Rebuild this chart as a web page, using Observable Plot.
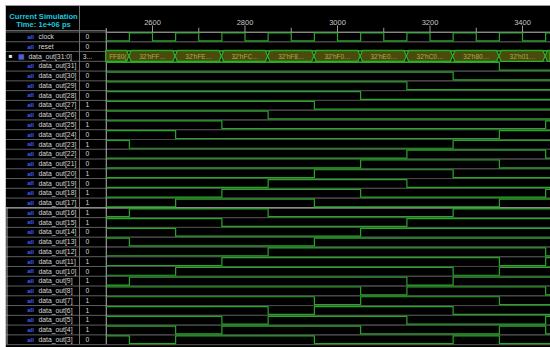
<!DOCTYPE html>
<html><head><meta charset="utf-8">
<script src="https://cdn.jsdelivr.net/npm/d3@7"></script>
<script src="https://cdn.jsdelivr.net/npm/@observablehq/plot@0.6"></script>
<style>
html,body{margin:0;padding:0;background:#fff;width:550px;height:347px;overflow:hidden;}
#wrap{position:absolute;left:5px;top:5px;width:544px;height:341px;background:#000;overflow:hidden;border-top:1px solid #9a9a9a;border-left:1px solid #c8c8c8;}
#wrap svg{display:block;}
</style></head><body><div id="wrap"></div>
<script>
// ---------- data ----------
const viewStart = 2500;
const viewEnd = 3460.5;
const majorTicks = [2600, 2800, 3000, 3200, 3400];
const minorTicks = [2700, 2900, 3100, 3300];
const headerLines = ["Current Simulation", "Time: 1e+06 ps"];

const clockTimes = [2500,2550,2600,2650,2700,2750,2800,2850,2900,2950,3000,3050,3100,3150,3200,3250,3300,3350,3400,3450];
const clockLevels = [0,1,0,1,0,1,0,1,0,1,0,1,0,1,0,1,0,1,0,1];
const resetTimes = [2500];
const resetLevels = [0];

const busName = "data_out[31:0]";
const busTimes = [2500,2550,2650,2750,2850,2950,3050,3150,3250,3350,3450];
const busLabels = ["FF80(", "32'hFF…", "32'hFE…", "32'hFC…", "32'hF8…", "32'hF0…", "32'hE0…", "32'hC0…", "32'h80…", "32'h01…", ""];

const bitNames = ["data_out[31]","data_out[30]","data_out[29]","data_out[28]","data_out[27]","data_out[26]","data_out[25]","data_out[24]","data_out[23]","data_out[22]","data_out[21]","data_out[20]","data_out[19]","data_out[18]","data_out[17]","data_out[16]","data_out[15]","data_out[14]","data_out[13]","data_out[12]","data_out[11]","data_out[10]","data_out[9]","data_out[8]","data_out[7]","data_out[6]","data_out[5]","data_out[4]","data_out[3]"];
// level of each bit during each bus interval (busTimes)
const bitWaves = ["11111111100","11111111000","11111110000","11111100000","11111000000","11110000000","11100000001","11000000011","10000000111","00000001110","00000011100","00000111000","00001110000","00011100001","00111000011","01110000111","11100001111","11000011111","10000111111","00001111110","00011111101","00111111011","01111110111","11111101110","11111011100","11110111000","11101110001","11011100010","10111000100"];

const topValues = ["0", "0"];
const busValue = "3...";
const bitValues = ["0","0","0","0","1","0","1","0","1","0","0","1","0","1","1","1","1","0","0","0","1","0","1","0","1","1","1","1","0"];
const groupBreakBefore = "data_out[16]";

// ---------- layout ----------
const W = 544, H = 341;
const rows = ["clock", "reset", busName, ...bitNames];
const idx = new Map(rows.map((r, i) => [r, i]));
const nRows = rows.length;
const HI = 0.1, LO = 0.9;
const green = "#25a825";
const font = "Liberation Sans, Arial, sans-serif";

function wavePoints(name, times, levels) {
  const pts = times.map((t, i) => ({name, t, v: levels[i]}));
  pts.push({name, t: viewEnd, v: levels[levels.length - 1]});
  return pts;
}
const wave = [
  ...wavePoints("clock", clockTimes, clockLevels),
  ...wavePoints("reset", resetTimes, resetLevels),
  ...bitNames.flatMap((n, k) => wavePoints(n, busTimes, [...bitWaves[k]].map(Number)))
];

const busRow = idx.get(busName);
const pinch = 5;
const busSegs = busTimes.map((t0, i) => ({seg: i, t0, t1: i + 1 < busTimes.length ? busTimes[i + 1] : viewEnd, label: busLabels[i]}));
const busPoly = busSegs.flatMap(({seg, t0, t1}) => {
  const a = t0 === viewStart ? 0 : pinch;
  const b = t1 === viewEnd ? 0 : pinch;
  const pts = [];
  if (a) pts.push({seg, t: t0, h: 0});
  pts.push({seg, t: t0 + a, h: 1});
  pts.push({seg, t: t1 - b, h: 1});
  if (b) pts.push({seg, t: t1, h: 0});
  return pts;
});
const BH = 0.56;

const boundaries = d3.range(nRows + 1);
const oneBitRows = ["clock", "reset", ...bitNames];
const oneBitValues = [...topValues, ...bitValues];

const chart = Plot.plot({
  width: W, height: H,
  marginTop: 0, marginLeft: 0, marginRight: 0, marginBottom: 0,
  style: {background: "#000", fontFamily: font, overflow: "hidden"},
  x: {domain: [viewStart, viewEnd], range: [99.75, W], axis: null},
  y: {type: "linear", domain: [0, nRows], range: [25.5, 25.5 + nRows * 9.77], axis: null},
  marks: [
    // name panel row lines
    Plot.ruleY(boundaries, {y: d => d, stroke: "#5e5e5e", strokeWidth: 1}),
    Plot.ruleY([0], {y: d => d - 0.15, x2: viewStart, stroke: "#6a6a6a"}),
    // waveform separators
    Plot.ruleY(boundaries, {y: d => d, x1: viewStart, x2: viewEnd, stroke: "#474747", strokeWidth: 1}),
    Plot.ruleY([idx.get(groupBreakBefore)], {y: d => d, stroke: "#b8b8b8", strokeWidth: 1}),
    // panel vertical lines
    Plot.ruleX([viewStart], {x: d => d, dx: -26.75, y1: -3, y2: nRows, stroke: "#707070"}),
    Plot.ruleX([viewStart], {x: d => d, dx: -99.25, y1: idx.get(groupBreakBefore), y2: nRows, stroke: "#b0b0b0"}),
    Plot.ruleX([viewStart], {x: d => d, y1: -0.35, y2: nRows, stroke: "#b8b8b8"}),
    // time axis
    Plot.ruleY([0], {y: d => d + 0.05, x1: viewStart, x2: viewEnd, stroke: "#8a8a8a"}),
    Plot.ruleX(majorTicks, {x: d => d, y1: -0.62, y2: 0.05, stroke: "#9a9a9a"}),
    Plot.ruleX(minorTicks, {x: d => d, y1: -0.38, y2: 0.05, stroke: "#9a9a9a"}),
    Plot.text(majorTicks, {x: d => d, y: -0.98, text: d => String(d), fill: "#c8c8c8", fontSize: 7.5, fontFamily: font}),
    // header (two lines, placed in the header cell above the first row)
    Plot.text(headerLines, {frameAnchor: "left", y: (d, i) => -1.55 + i * 0.82, dx: 37, text: d => d, fill: "#1ec6de", fontWeight: "bold", fontSize: 7.6, textAnchor: "middle", fontFamily: font}),
    // icons + names + values
    Plot.text(oneBitRows, {frameAnchor: "left", y: d => idx.get(d) + 0.5, dx: 24, text: () => "all", fill: "#3f5cff", fontWeight: "bold", fontSize: 6, textAnchor: "middle", fontFamily: font}),
    Plot.text(oneBitRows, {frameAnchor: "left", y: d => idx.get(d) + 0.5, dx: 32, text: d => d, fill: "#d6d6d6", fontSize: 6.8, textAnchor: "start", fontFamily: font}),
    Plot.text([busName], {frameAnchor: "left", y: d => idx.get(d) + 0.5, dx: 4, text: () => "■", fill: "#e8e8e8", fontSize: 6, textAnchor: "middle"}),
    Plot.text([busName], {frameAnchor: "left", y: d => idx.get(d) + 0.5, dx: 15, text: () => "▦", fill: "#6a7cff", fontSize: 7, textAnchor: "middle"}),
    Plot.text([busName], {frameAnchor: "left", y: d => idx.get(d) + 0.5, dx: 22, text: d => d, fill: "#d6d6d6", fontSize: 6.8, textAnchor: "start", fontFamily: font}),
    Plot.text(oneBitRows, {frameAnchor: "left", y: d => idx.get(d) + 0.5, dx: 81, text: (d, i) => oneBitValues[i], fill: "#d6d6d6", fontSize: 6.8, textAnchor: "middle", fontFamily: font}),
    Plot.text([busName], {frameAnchor: "left", y: d => idx.get(d) + 0.5, dx: 81, text: () => busValue, fill: "#d6d6d6", fontSize: 6.8, textAnchor: "middle", fontFamily: font}),
    // bus
    Plot.areaY(busPoly, {x: "t", y1: d => busRow + 0.5 - d.h * BH, y2: d => busRow + 0.5 + d.h * BH, z: "seg", fill: "#4a4a0c", stroke: "#2bb52b", strokeWidth: 1.2}),
    Plot.text(busSegs, {x: d => (d.t0 + d.t1) / 2, y: busRow + 0.5, text: "label", fill: "#a8b050", fontSize: 6.5, fontFamily: font}),
    // single-bit waveforms
    Plot.line(wave, {x: "t", y: d => idx.get(d.name) + (d.v ? HI : LO), z: "name", curve: "step-after", stroke: green, strokeWidth: 1.2})
  ]
});
document.getElementById("wrap").appendChild(chart);
</script></body></html>
